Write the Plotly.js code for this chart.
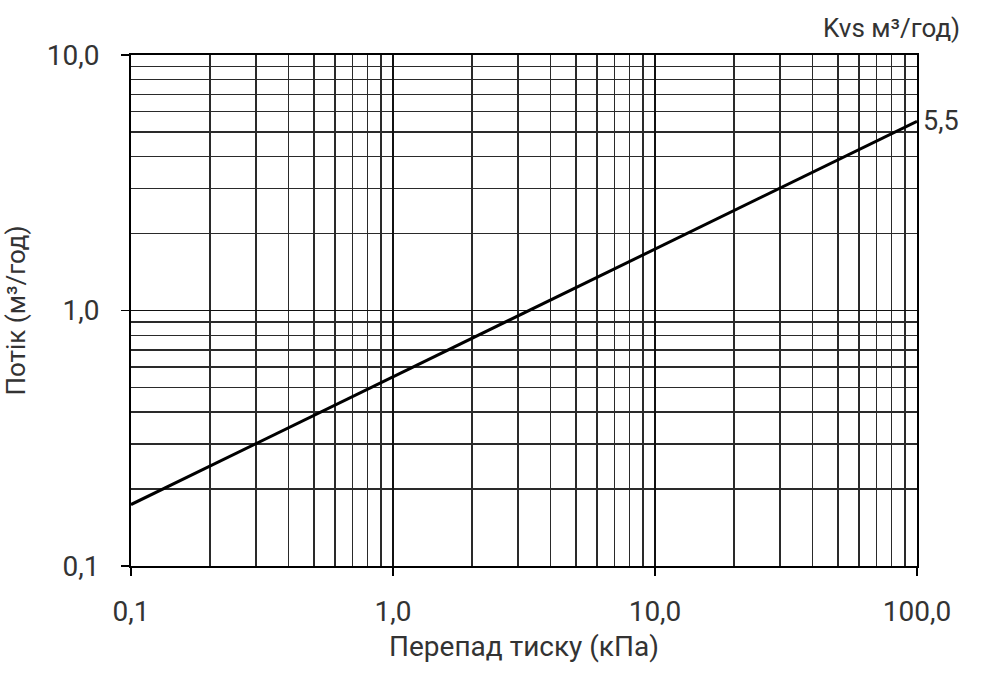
<!DOCTYPE html>
<html>
<head>
<meta charset="utf-8">
<script src="https://cdn.plot.ly/plotly-3.0.1.min.js"></script>
<style>html,body{margin:0;padding:0;background:#fff;}#chart{width:1000px;height:673px;}</style>
</head>
<body>
<div id="chart"></div>
<script>
// Data
const pressureDrop = [0.1, 100];          // kPa
const flowKvs55 = [0.174, 5.5];           // m3/h, Kvs = 5.5
const xTickVals = [0.1, 1, 10, 100];
const xTickText = ['0,1', '1,0', '10,0', '100,0'];
const yTickVals = [0.1, 1, 10];
const yTickText = ['0,1', '1,0', '10,0'];
const kvsLabel = '5,5';

const fontFam = 'Roboto, "DejaVu Sans", sans-serif';
const txt = '#333';
const gridCol = '#2a2a2a';

const trace = {
  x: pressureDrop, y: flowKvs55, type: 'scatter', mode: 'lines',
  line: {color: '#000', width: 3}, hoverinfo: 'skip', showlegend: false
};

const axisCommon = {
  type: 'log', showline: true, mirror: true, linecolor: '#000', linewidth: 2,
  showgrid: true, gridcolor: '#111', gridwidth: 1.6,
  ticks: 'outside', ticklen: 8, tickwidth: 1.5, tickcolor: '#000',
  tickfont: {family: fontFam, size: 28, color: txt},
  zeroline: false,
  minor: {dtick: 'D1', showgrid: true, gridcolor: gridCol, gridwidth: 1.4, ticks: ''}
};

const layout = {
  width: 1000, height: 673,
  margin: {l: 131, r: 83, t: 55, b: 107},
  paper_bgcolor: '#fff', plot_bgcolor: '#fff',
  font: {family: fontFam, color: txt},
  xaxis: Object.assign({}, axisCommon, {
    range: [-1, 2], tickvals: xTickVals, ticktext: xTickText,
    ticklabelstandoff: 11,
    title: {text: 'Перепад тиску (кПа)', font: {family: fontFam, size: 28, color: txt}, standoff: 10}
  }),
  yaxis: Object.assign({}, axisCommon, {
    range: [-1, 1], tickvals: yTickVals, ticktext: yTickText,
    ticklabelstandoff: 16,
    title: {text: 'Потік (м³/год)', font: {family: fontFam, size: 26, color: txt}, standoff: 14}
  }),
  annotations: [
    {xref: 'paper', yref: 'paper', x: 1.057, y: 1.053, xanchor: 'right', yanchor: 'middle',
     text: 'Kvs м³/год)', showarrow: false, font: {family: fontFam, size: 26, color: txt}},
    {xref: 'x', yref: 'y', x: Math.log10(pressureDrop[1]), y: Math.log10(flowKvs55[1]),
     xanchor: 'left', yanchor: 'middle', xshift: 4, text: kvsLabel, showarrow: false,
     font: {family: fontFam, size: 27, color: txt}}
  ]
};

Plotly.newPlot('chart', [trace], layout, {staticPlot: true, displayModeBar: false});
</script>
</body>
</html>
